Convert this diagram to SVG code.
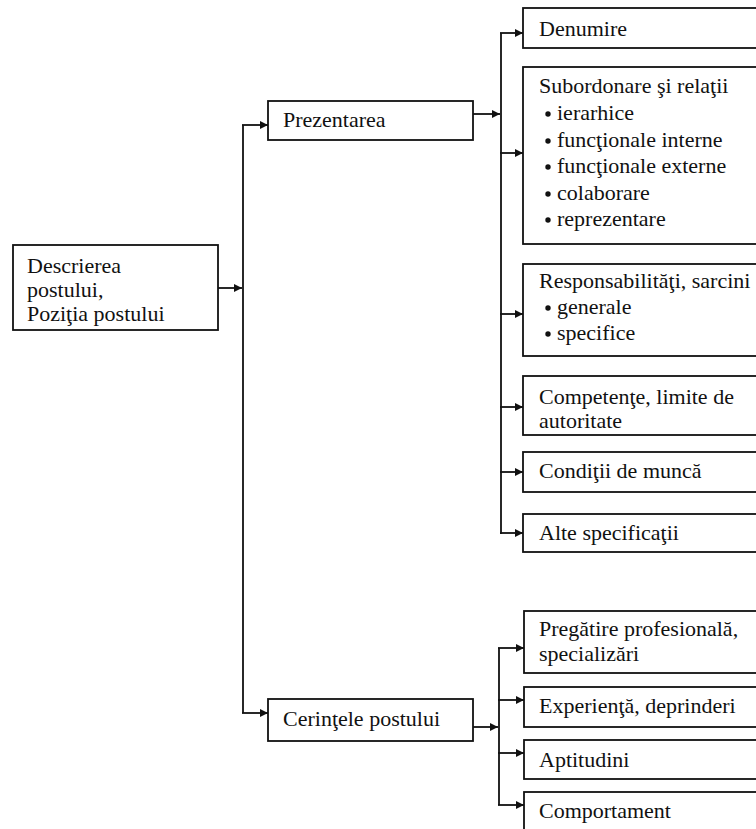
<svg xmlns="http://www.w3.org/2000/svg" width="756" height="829" viewBox="0 0 756 829">
  <defs>
    <marker id="arrow" viewBox="0 0 10 10" refX="10" refY="5" markerWidth="9" markerHeight="8" markerUnits="userSpaceOnUse" orient="auto">
      <path d="M0,0 L10,5 L0,10 z" fill="#111"/>
    </marker>
    <style>
      .box { fill: #fff; stroke: #111; stroke-width: 1.8; }
      .lbl { font-family: 'Liberation Serif', 'Times New Roman', 'DejaVu Serif', serif; font-size: 22px; fill: #111; }
      .link { fill: none; stroke: #111; stroke-width: 1.8; }
      .arr { fill: none; stroke: #111; stroke-width: 1.8; marker-end: url(#arrow); }
      .dot { fill: #111; }
    </style>
  </defs>
  <rect width="756" height="829" fill="#fff"/>

  <!-- connectors -->
  <g id="connectors">
    <!-- root to level 1 -->
    <line class="arr" x1="218" y1="288" x2="242" y2="288"/>
    <line class="link" x1="243" y1="125" x2="243" y2="713"/>
    <line class="arr" x1="242" y1="125" x2="268" y2="125"/>
    <line class="arr" x1="242" y1="713" x2="268" y2="713"/>

    <!-- Prezentarea branch -->
    <line class="arr" x1="473" y1="114" x2="500" y2="114"/>
    <line class="link" x1="501" y1="33" x2="501" y2="534"/>
    <line class="arr" x1="500" y1="33" x2="523" y2="33"/>
    <line class="arr" x1="500" y1="153" x2="523" y2="153"/>
    <line class="arr" x1="500" y1="314" x2="523" y2="314"/>
    <line class="arr" x1="500" y1="407" x2="523" y2="407"/>
    <line class="arr" x1="500" y1="472" x2="523" y2="472"/>
    <line class="arr" x1="500" y1="533" x2="523" y2="533"/>

    <!-- Cerintele branch -->
    <line class="arr" x1="473" y1="727" x2="498" y2="727"/>
    <line class="link" x1="499" y1="648" x2="499" y2="805"/>
    <line class="arr" x1="498" y1="648" x2="524" y2="648"/>
    <line class="arr" x1="498" y1="700" x2="524" y2="700"/>
    <line class="arr" x1="498" y1="753" x2="524" y2="753"/>
    <line class="arr" x1="498" y1="805" x2="524" y2="805"/>
  </g>

  <!-- root -->
  <g id="descrierea">
    <rect class="box" x="13" y="245" width="205" height="85"/>
    <text class="lbl" x="27" y="273">Descrierea</text>
    <text class="lbl" x="27" y="297">postului,</text>
    <text class="lbl" x="27" y="321">Poziţia postului</text>
  </g>

  <!-- level 1 -->
  <g id="prezentarea">
    <rect class="box" x="268" y="101" width="205" height="39"/>
    <text class="lbl" x="283" y="127">Prezentarea</text>
  </g>
  <g id="cerintele">
    <rect class="box" x="268" y="699" width="205" height="42"/>
    <text class="lbl" x="283" y="726">Cerinţele postului</text>
  </g>

  <!-- Prezentarea children -->
  <g id="denumire">
    <rect class="box" x="523" y="8" width="250" height="40"/>
    <text class="lbl" x="539" y="36">Denumire</text>
  </g>
  <g id="subordonare">
    <rect class="box" x="523" y="67" width="250" height="177"/>
    <text class="lbl" x="539" y="93">Subordonare şi relaţii</text>
    <circle class="dot" cx="548" cy="114" r="2.7"/>
    <text class="lbl" x="557" y="120">ierarhice</text>
    <circle class="dot" cx="548" cy="141" r="2.7"/>
    <text class="lbl" x="557" y="147">funcţionale interne</text>
    <circle class="dot" cx="548" cy="167" r="2.7"/>
    <text class="lbl" x="557" y="173">funcţionale externe</text>
    <circle class="dot" cx="548" cy="194" r="2.7"/>
    <text class="lbl" x="557" y="200">colaborare</text>
    <circle class="dot" cx="548" cy="220" r="2.7"/>
    <text class="lbl" x="557" y="226">reprezentare</text>
  </g>
  <g id="responsabilitati">
    <rect class="box" x="523" y="264" width="250" height="92"/>
    <text class="lbl" x="539" y="288">Responsabilităţi, sarcini</text>
    <circle class="dot" cx="548" cy="308" r="2.7"/>
    <text class="lbl" x="557" y="314">generale</text>
    <circle class="dot" cx="548" cy="334" r="2.7"/>
    <text class="lbl" x="557" y="340">specifice</text>
  </g>
  <g id="competente">
    <rect class="box" x="523" y="376" width="250" height="59"/>
    <text class="lbl" x="539" y="404">Competenţe, limite de</text>
    <text class="lbl" x="539" y="428">autoritate</text>
  </g>
  <g id="conditii">
    <rect class="box" x="523" y="452" width="250" height="40"/>
    <text class="lbl" x="539" y="478">Condiţii de muncă</text>
  </g>
  <g id="alte">
    <rect class="box" x="523" y="514" width="250" height="38"/>
    <text class="lbl" x="539" y="540">Alte specificaţii</text>
  </g>

  <!-- Cerintele children -->
  <g id="pregatire">
    <rect class="box" x="524" y="611" width="250" height="62"/>
    <text class="lbl" x="539" y="636">Pregătire profesională,</text>
    <text class="lbl" x="539" y="661">specializări</text>
  </g>
  <g id="experienta">
    <rect class="box" x="524" y="687" width="250" height="40"/>
    <text class="lbl" x="539" y="713">Experienţă, deprinderi</text>
  </g>
  <g id="aptitudini">
    <rect class="box" x="524" y="740" width="250" height="39"/>
    <text class="lbl" x="539" y="767">Aptitudini</text>
  </g>
  <g id="comportament">
    <rect class="box" x="524" y="792" width="250" height="60"/>
    <text class="lbl" x="539" y="818">Comportament</text>
  </g>
</svg>
